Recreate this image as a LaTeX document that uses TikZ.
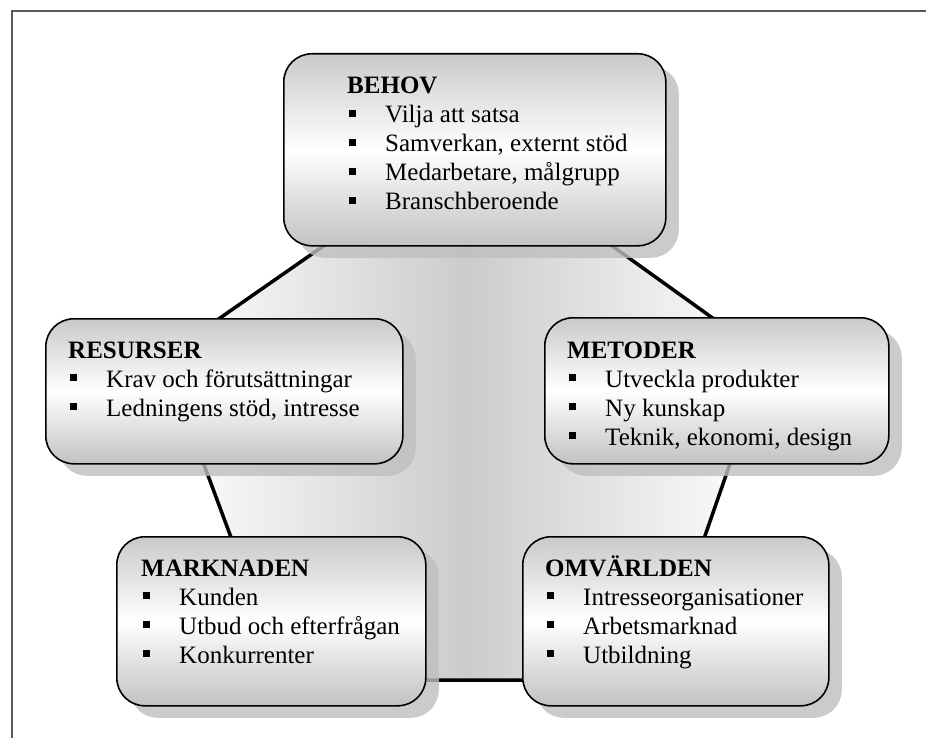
\documentclass[tikz,border=0pt]{standalone}
\usepackage{fontspec}
\setmainfont{Liberation Serif}
\usetikzlibrary{shadows}

\tikzset{
  panel/.style={draw=black, line width=1.6pt, rounded corners=28pt,
    top color=gray!42, bottom color=gray!48, middle color=white,
    inner sep=0pt, anchor=north west,
    drop shadow={shadow xshift=13pt, shadow yshift=-12pt, fill=gray!50, opacity=0.8}},
  % anchored at the baseline of the last line of the block
  paneltext/.style={anchor=base west, align=left, inner sep=0pt,
    font=\fontsize{25}{29}\selectfont},
  frameline/.style={draw=gray!70!black, line width=1.3pt},
  ring/.style={draw=black, line width=3.5pt, line join=round}
}
% bullet item: small square, then the entry text
\newcommand\itm[1]{\makebox[38pt][l]{\hspace{1.5pt}\rule[6pt]{7pt}{7pt}}#1}

\begin{document}
\begin{tikzpicture}[x=1pt, y=-1pt]
  \useasboundingbox (0,0) rectangle (926,738);
  \fill[white] (0,0) rectangle (926,738);

  % outer frame (top and left rules)
  \coordinate (fbl) at (12,738);
  \coordinate (ftl) at (12,11);
  \coordinate (ftr) at (926,11);
  \draw[frameline] (fbl) -- (ftl) -- (ftr);

  % pentagon behind the panels
  \coordinate (p1) at (470,144);
  \coordinate (p2) at (767,357);
  \coordinate (p3) at (655,680);
  \coordinate (p4) at (284,680);
  \coordinate (p5) at (164,357);
  \path[ring, left color=white, right color=white, middle color=gray!40]
    (p1) -- (p2) -- (p3) -- (p4) -- (p5) -- cycle;

  % panels
  \node[panel, minimum width=382pt, minimum height=192pt] (behov) at (283,53) {};
  \node[panel, minimum width=357pt, minimum height=145pt] (resurser) at (45,318) {};
  \node[panel, minimum width=344pt, minimum height=146pt] (metoder) at (544,317) {};
  \node[panel, minimum width=309pt, minimum height=169pt] (marknaden) at (116,536) {};
  \node[panel, minimum width=306pt, minimum height=169pt] (omvarlden) at (522,536) {};

  % panel texts
  \node[paneltext] (tbehov) at (347,210) {\textbf{BEHOV}\\
    \itm{Vilja att satsa}\\
    \itm{Samverkan, externt stöd}\\
    \itm{Medarbetare, målgrupp}\\
    \itm{Branschberoende}};
  \node[paneltext] (tresurser) at (68,416) {\textbf{RESURSER}\\
    \itm{Krav och förutsättningar}\\
    \itm{Ledningens stöd, intresse}};
  \node[paneltext] (tmetoder) at (567,445) {\textbf{METODER}\\
    \itm{Utveckla produkter}\\
    \itm{Ny kunskap}\\
    \itm{Teknik, ekonomi, design}};
  \node[paneltext] (tmarknaden) at (141,663) {\textbf{MARKNADEN}\\
    \itm{Kunden}\\
    \itm{Utbud och efterfrågan}\\
    \itm{Konkurrenter}};
  \node[paneltext] (tomvarlden) at (545,663) {\textbf{OMVÄRLDEN}\\
    \itm{Intresseorganisationer}\\
    \itm{Arbetsmarknad}\\
    \itm{Utbildning}};
\end{tikzpicture}
\end{document}
